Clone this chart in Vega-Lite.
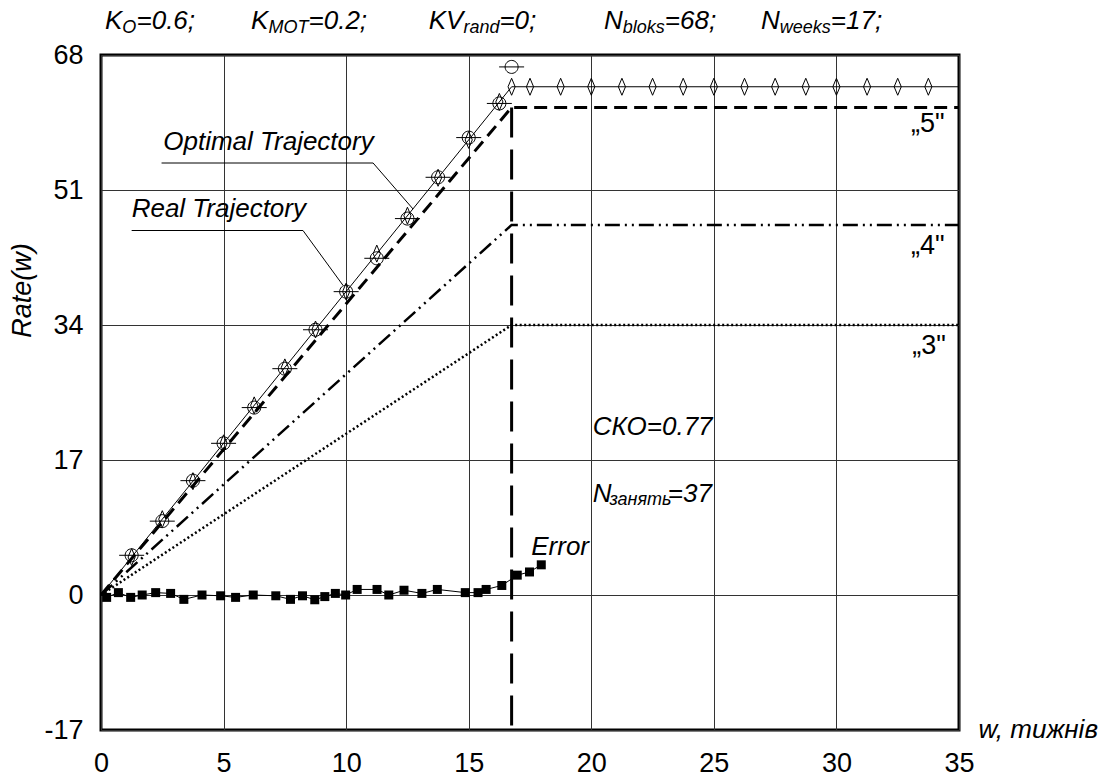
{
  "$schema": "https://vega.github.io/schema/vega-lite/v6.json",
  "width": 858,
  "height": 675,
  "autosize": {"type": "none"},
  "padding": {"left": 101, "top": 55, "right": 141, "bottom": 46},
  "background": "white",
  "config": {
    "view": {"stroke": "black", "strokeWidth": 3},
    "font": "Liberation Sans"
  },
  "datasets": {
    "optimal": [{"x": 0, "y": 0}, {"x": 16.75, "y": 64}, {"x": 35, "y": 64}],
    "diamonds": [
      {"x": 1.25, "y": 4.78}, {"x": 2.5, "y": 9.55}, {"x": 3.75, "y": 14.33}, {"x": 5, "y": 19.1},
      {"x": 6.25, "y": 23.88}, {"x": 7.5, "y": 28.66}, {"x": 8.75, "y": 33.43}, {"x": 10, "y": 38.21},
      {"x": 11.25, "y": 42.99}, {"x": 12.5, "y": 47.76}, {"x": 13.75, "y": 52.54}, {"x": 15, "y": 57.31},
      {"x": 16.25, "y": 62.09}, {"x": 16.75, "y": 64}, {"x": 17.5, "y": 64}, {"x": 18.75, "y": 64},
      {"x": 20, "y": 64}, {"x": 21.25, "y": 64}, {"x": 22.5, "y": 64}, {"x": 23.75, "y": 64},
      {"x": 25, "y": 64}, {"x": 26.25, "y": 64}, {"x": 27.5, "y": 64}, {"x": 28.75, "y": 64},
      {"x": 30, "y": 64}, {"x": 31.25, "y": 64}, {"x": 32.5, "y": 64}, {"x": 33.75, "y": 64}
    ],
    "real": [
      {"x": 1.25, "y": 5.0}, {"x": 2.5, "y": 9.3}, {"x": 3.75, "y": 14.4}, {"x": 5, "y": 19.1},
      {"x": 6.25, "y": 23.6}, {"x": 7.5, "y": 28.5}, {"x": 8.75, "y": 33.4}, {"x": 10, "y": 38.2},
      {"x": 11.25, "y": 42.4}, {"x": 12.5, "y": 47.4}, {"x": 13.75, "y": 52.6}, {"x": 15, "y": 57.6},
      {"x": 16.25, "y": 61.9}, {"x": 16.75, "y": 66.5}
    ],
    "grade5": [{"x": 0, "y": 0}, {"x": 16.75, "y": 61.4}, {"x": 35, "y": 61.4}],
    "grade4": [{"x": 0, "y": 0}, {"x": 16.75, "y": 46.6}, {"x": 35, "y": 46.6}],
    "grade3": [{"x": 0, "y": 0}, {"x": 16.75, "y": 34}, {"x": 35, "y": 34}],
    "vline": [{"x": 16.75, "y": 61.4}, {"x": 16.75, "y": -17}],
    "error": [
      {"x": 0.23, "y": -0.3}, {"x": 0.71, "y": 0.3}, {"x": 1.21, "y": -0.3}, {"x": 1.68, "y": 0.0},
      {"x": 2.23, "y": 0.3}, {"x": 2.84, "y": 0.2}, {"x": 3.38, "y": -0.55}, {"x": 4.12, "y": 0.0},
      {"x": 4.88, "y": -0.1}, {"x": 5.49, "y": -0.3}, {"x": 6.21, "y": 0.0}, {"x": 7.13, "y": -0.1},
      {"x": 7.73, "y": -0.55}, {"x": 8.22, "y": -0.1}, {"x": 8.72, "y": -0.6}, {"x": 9.13, "y": -0.2},
      {"x": 9.56, "y": 0.2}, {"x": 9.98, "y": 0.0}, {"x": 10.45, "y": 0.7}, {"x": 11.26, "y": 0.7},
      {"x": 11.74, "y": 0.0}, {"x": 12.36, "y": 0.6}, {"x": 13.09, "y": 0.2}, {"x": 13.72, "y": 0.7},
      {"x": 14.86, "y": 0.3}, {"x": 15.38, "y": 0.3}, {"x": 15.71, "y": 0.7}, {"x": 16.35, "y": 1.2},
      {"x": 16.98, "y": 2.5}, {"x": 17.48, "y": 2.9}, {"x": 17.96, "y": 3.8}
    ],
    "pointers": [
      {"g": "o", "x": 2.47, "y": 54.4}, {"g": "o", "x": 11.1, "y": 54.4}, {"g": "o", "x": 12.73, "y": 48.6},
      {"g": "r", "x": 1.25, "y": 45.9}, {"g": "r", "x": 8.24, "y": 45.9}, {"g": "r", "x": 9.87, "y": 39.0}
    ],
    "labels": [
      {"t": "Optimal Trajectory", "x": 2.54, "y": 56.0},
      {"t": "Real Trajectory", "x": 1.25, "y": 47.6},
      {"t": "СКО=0.77", "x": 20.06, "y": 20.2},
      {"t": "Error", "x": 17.55, "y": 5.0},
      {"t": "N", "x": 20.06, "y": 11.75},
      {"t": "=37", "x": 23.12, "y": 11.75},
      {"t": "K", "x": 0.163, "y": 71.3},
      {"t": "=0.6;", "x": 1.448, "y": 71.3},
      {"t": "K", "x": 6.119, "y": 71.3},
      {"t": "=0.2;", "x": 8.465, "y": 71.3},
      {"t": "KV", "x": 13.368, "y": 71.3},
      {"t": "=0;", "x": 16.252, "y": 71.3},
      {"t": "N", "x": 20.519, "y": 71.3},
      {"t": "=68;", "x": 22.999, "y": 71.3},
      {"t": "N", "x": 26.924, "y": 71.3},
      {"t": "=17;", "x": 29.77, "y": 71.3}
    ],
    "grades": [
      {"t": "„5\"", "x": 33.04, "y": 58.3},
      {"t": "„4\"", "x": 33.04, "y": 43.0},
      {"t": "„3\"", "x": 33.09, "y": 30.4}
    ],
    "subs": [
      {"t": "O", "x": 0.869, "y": 70.8},
      {"t": "MOT", "x": 6.833, "y": 70.8},
      {"t": "rand", "x": 14.783, "y": 70.8},
      {"t": "bloks", "x": 21.286, "y": 70.8},
      {"t": "weeks", "x": 27.69, "y": 70.8},
      {"t": "занять", "x": 20.74, "y": 11.3}
    ]
  },
  "encoding": {
    "x": {
      "field": "x", "type": "quantitative",
      "scale": {"domain": [0, 35], "nice": false, "zero": false},
      "axis": {
        "values": [0, 5, 10, 15, 20, 25, 30, 35],
        "grid": true, "gridColor": "#333", "gridWidth": 1,
        "domain": false, "ticks": false, "tickSize": 0,
        "labelFontSize": 27, "labelFont": "Liberation Sans", "labelColor": "black",
        "labelPadding": 20, "labelFlush": false, "labelOverlap": false,
        "title": "w, тижнів", "titleFont": "Liberation Sans", "titleFontSize": 26,
        "titleFontStyle": "italic", "titleFontWeight": "normal", "titleColor": "black",
        "titleX": 877, "titleY": 7, "titleAlign": "left", "titleBaseline": "alphabetic"
      }
    },
    "y": {
      "field": "y", "type": "quantitative",
      "scale": {"domain": [-17, 68], "nice": false, "zero": false},
      "axis": {
        "values": [-17, 0, 17, 34, 51, 68],
        "labelExpr": "replace(datum.label, '−', '-')",
        "grid": true, "gridColor": "#333", "gridWidth": 1,
        "domain": false, "ticks": false, "tickSize": 0,
        "labelFontSize": 27, "labelFont": "Liberation Sans", "labelColor": "black",
        "labelPadding": 18, "labelFlush": false, "labelOverlap": false,
        "title": "Rate(w)", "titleFont": "Liberation Sans", "titleFontSize": 27,
        "titleFontStyle": "italic", "titleFontWeight": "normal", "titleColor": "black",
        "titleX": -79, "titleY": 235, "titleAngle": 270, "titleAlign": "center", "titleBaseline": "middle"
      }
    }
  },
  "layer": [
    {"data": {"name": "optimal"}, "mark": {"type": "line", "color": "black", "strokeWidth": 1}},
    {"data": {"name": "grade5"}, "mark": {"type": "line", "color": "black", "strokeWidth": 3, "strokeDash": [13, 7]}},
    {"data": {"name": "grade4"}, "mark": {"type": "line", "color": "black", "strokeWidth": 2.5, "strokeDash": [15, 5, 2, 5, 2, 5]}},
    {"data": {"name": "grade3"}, "mark": {"type": "line", "color": "black", "strokeWidth": 2.5, "strokeDash": [2, 2.5]}},
    {"data": {"name": "vline"}, "mark": {"type": "line", "color": "black", "strokeWidth": 3, "strokeDash": [30, 12]}},
    {"data": {"name": "error"}, "mark": {"type": "line", "color": "black", "strokeWidth": 1}},
    {"data": {"name": "error"}, "mark": {"type": "point", "shape": "square", "filled": true, "color": "black", "size": 81, "opacity": 1}},
    {"data": {"name": "diamonds"}, "mark": {"type": "point", "shape": "M0,-1L0.42,0L0,1L-0.42,0Z", "filled": false, "color": "black", "strokeWidth": 1, "size": 289, "opacity": 1}},
    {"data": {"name": "real"}, "mark": {"type": "point", "shape": "M-1,0L1,0M-0.52,0A0.52,0.52 0 1,0 0.52,0A0.52,0.52 0 1,0 -0.52,0", "filled": false, "color": "black", "strokeWidth": 1, "size": 625, "opacity": 1}},
    {"data": {"name": "pointers"}, "mark": {"type": "line", "color": "black", "strokeWidth": 1}, "encoding": {"detail": {"field": "g"}}},
    {"data": {"name": "labels"}, "mark": {"type": "text", "align": "left", "baseline": "alphabetic", "fontSize": 26, "fontStyle": "italic", "font": "Liberation Sans", "color": "black"}, "encoding": {"text": {"field": "t"}}},
    {"data": {"name": "grades"}, "mark": {"type": "text", "align": "left", "baseline": "alphabetic", "fontSize": 27, "fontStyle": "normal", "font": "Liberation Sans", "color": "black"}, "encoding": {"text": {"field": "t"}}},
    {"data": {"name": "subs"}, "mark": {"type": "text", "align": "left", "baseline": "alphabetic", "fontSize": 18, "fontStyle": "italic", "font": "Liberation Sans", "color": "black"}, "encoding": {"text": {"field": "t"}}}
  ]
}
